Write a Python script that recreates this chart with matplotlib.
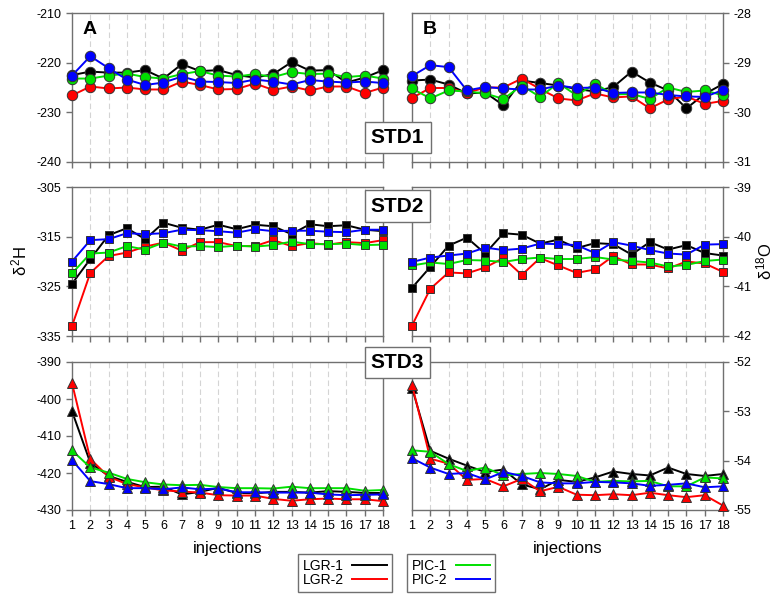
import matplotlib
matplotlib.use("Agg")
import matplotlib.pyplot as plt
import numpy as np

plt.rcParams["font.family"] = ["Liberation Sans", "DejaVu Sans"]
plt.rcParams["axes.unicode_minus"] = False
plt.rcParams["mathtext.fontset"] = "custom"
plt.rcParams["mathtext.rm"] = "Liberation Sans"
plt.rcParams["mathtext.it"] = "Liberation Sans"
plt.rcParams["mathtext.bf"] = "Liberation Sans:bold"

injections = list(range(1, 19))
series_names = ["LGR-1", "LGR-2", "PIC-1", "PIC-2"]
series_colors = ["#000000", "#ff0000", "#00e000", "#0000ff"]

# ── STD1 δ2H (A) ──
std1_h_lgr1 = [-222.5, -221.8, -222.0, -222.0, -221.5, -223.2, -220.3, -221.7, -221.5, -222.5,
               -223.0, -222.3, -219.9, -221.6, -221.5, -224.0, -223.0, -221.5]
std1_h_lgr2 = [-226.6, -224.8, -225.2, -225.0, -225.4, -225.4, -223.8, -224.5, -225.4, -225.3,
               -224.2, -225.5, -224.8, -225.6, -224.8, -224.8, -226.1, -225.0]
std1_h_pic1 = [-223.2, -223.2, -222.6, -222.2, -222.9, -223.2, -222.3, -221.7, -222.6, -222.8,
               -222.3, -222.9, -221.9, -222.3, -222.2, -222.9, -222.6, -223.2]
std1_h_pic2 = [-222.6, -218.7, -221.1, -223.4, -224.5, -224.0, -222.8, -223.8, -223.9, -224.1,
               -223.4, -223.8, -224.4, -223.5, -223.8, -224.0, -223.8, -224.1]

# ── STD1 δ18O (B) ──
std1_o_lgr1 = [-29.36, -29.34, -29.44, -29.62, -29.60, -29.86, -29.36, -29.41, -29.46, -29.53,
               -29.58, -29.49, -29.18, -29.40, -29.56, -29.92, -29.63, -29.43]
std1_o_lgr2 = [-29.71, -29.51, -29.51, -29.61, -29.50, -29.50, -29.32, -29.53, -29.72, -29.76,
               -29.62, -29.70, -29.68, -29.92, -29.74, -29.68, -29.83, -29.77]
std1_o_pic1 = [-29.52, -29.72, -29.56, -29.58, -29.62, -29.73, -29.46, -29.69, -29.41, -29.66,
               -29.42, -29.64, -29.63, -29.73, -29.50, -29.59, -29.56, -29.66]
std1_o_pic2 = [-29.27, -29.05, -29.09, -29.56, -29.49, -29.52, -29.54, -29.54, -29.46, -29.51,
               -29.50, -29.61, -29.60, -29.60, -29.65, -29.68, -29.69, -29.55]

# ── STD2 δ2H (A) ──
std2_h_lgr1 = [-324.5, -319.5, -314.7, -313.3, -315.5, -312.2, -313.2, -313.6, -312.6, -313.5,
               -312.6, -312.9, -314.5, -312.5, -312.9, -312.7, -313.6, -313.9]
std2_h_lgr2 = [-333.0, -322.3, -318.9, -318.2, -317.0, -316.2, -317.8, -316.1, -316.1, -316.9,
               -316.9, -315.7, -316.9, -316.3, -316.6, -316.1, -316.3, -315.7]
std2_h_pic1 = [-322.4, -318.4, -318.2, -316.9, -317.6, -316.2, -317.0, -316.9, -317.1, -316.8,
               -317.0, -316.7, -316.0, -316.5, -316.5, -316.4, -316.7, -316.6]
std2_h_pic2 = [-320.0, -315.7, -315.5, -314.3, -314.5, -314.3, -313.6, -313.7, -313.9, -314.2,
               -313.5, -313.9, -313.8, -313.8, -314.0, -314.1, -313.6, -313.6]

# ── STD2 δ18O (B) ──
std2_o_lgr1 = [-41.03, -40.61, -40.18, -40.02, -40.34, -39.93, -39.96, -40.14, -40.06, -40.23,
               -40.13, -40.15, -40.36, -40.11, -40.26, -40.17, -40.33, -40.38]
std2_o_lgr2 = [-41.79, -41.05, -40.72, -40.74, -40.62, -40.43, -40.77, -40.43, -40.58, -40.73,
               -40.66, -40.39, -40.56, -40.56, -40.64, -40.50, -40.54, -40.71]
std2_o_pic1 = [-40.58, -40.52, -40.55, -40.47, -40.48, -40.51, -40.45, -40.42, -40.45, -40.45,
               -40.41, -40.46, -40.49, -40.52, -40.60, -40.57, -40.49, -40.46]
std2_o_pic2 = [-40.51, -40.42, -40.38, -40.34, -40.22, -40.27, -40.24, -40.14, -40.15, -40.17,
               -40.33, -40.11, -40.18, -40.27, -40.34, -40.36, -40.16, -40.15]

# ── STD3 δ2H (A) ──
std3_h_lgr1 = [-403.3, -417.2, -420.8, -422.4, -423.8, -423.7, -425.8, -425.1, -424.0, -425.4,
               -425.5, -425.1, -425.1, -425.3, -424.9, -425.1, -425.4, -425.4]
std3_h_lgr2 = [-395.7, -416.2, -421.0, -423.0, -423.9, -424.7, -425.0, -425.3, -426.0, -426.1,
               -426.1, -427.0, -427.5, -427.1, -426.9, -427.1, -427.1, -427.6]
std3_h_pic1 = [-413.9, -418.5, -419.9, -421.6, -422.5, -423.1, -423.3, -423.2, -423.8, -424.1,
               -424.1, -424.2, -423.7, -424.1, -424.1, -424.1, -424.8, -424.6]
std3_h_pic2 = [-416.5, -422.2, -423.0, -424.1, -424.1, -424.4, -423.9, -424.4, -424.2, -425.2,
               -425.2, -425.3, -425.3, -425.3, -425.8, -426.0, -425.9, -425.8]

# ── STD3 δ18O (B) ──
std3_o_lgr1 = [-52.52, -53.80, -53.96, -54.10, -54.23, -54.18, -54.48, -54.58, -54.39, -54.43,
               -54.34, -54.22, -54.27, -54.30, -54.14, -54.27, -54.31, -54.27]
std3_o_lgr2 = [-52.46, -53.96, -54.06, -54.39, -54.37, -54.52, -54.37, -54.62, -54.53, -54.69,
               -54.70, -54.68, -54.70, -54.65, -54.70, -54.74, -54.70, -54.91]
std3_o_pic1 = [-53.79, -53.82, -54.07, -54.21, -54.14, -54.30, -54.27, -54.25, -54.27, -54.31,
               -54.43, -54.41, -54.42, -54.41, -54.52, -54.52, -54.34, -54.36]
std3_o_pic2 = [-53.95, -54.14, -54.27, -54.25, -54.38, -54.23, -54.31, -54.44, -54.46, -54.46,
               -54.43, -54.44, -54.46, -54.51, -54.49, -54.46, -54.54, -54.52]

panels = [
    # (row, col, data, marker, ylim, yticks)
    (0, 0, [std1_h_lgr1, std1_h_lgr2, std1_h_pic1, std1_h_pic2], "o", (-240, -210), [-240, -230, -220, -210]),
    (0, 1, [std1_o_lgr1, std1_o_lgr2, std1_o_pic1, std1_o_pic2], "o", (-31, -28), [-31, -30, -29, -28]),
    (1, 0, [std2_h_lgr1, std2_h_lgr2, std2_h_pic1, std2_h_pic2], "s", (-335, -305), [-335, -325, -315, -305]),
    (1, 1, [std2_o_lgr1, std2_o_lgr2, std2_o_pic1, std2_o_pic2], "s", (-42, -39), [-42, -41, -40, -39]),
    (2, 0, [std3_h_lgr1, std3_h_lgr2, std3_h_pic1, std3_h_pic2], "^", (-430, -390), [-430, -420, -410, -400, -390]),
    (2, 1, [std3_o_lgr1, std3_o_lgr2, std3_o_pic1, std3_o_pic2], "^", (-55, -52), [-55, -54, -53, -52]),
]
marker_sizes = {"o": 7.5, "s": 5.8, "^": 6.5}

W, H = 782, 603
fig = plt.figure(figsize=(W / 100, H / 100), dpi=100)

col_x = [(72, 383), (412, 723)]
row_y = [(13, 162), (187, 336), (362, 510)]
spine_col = "#707070"

axes = {}
for row, col, data, mk, ylim, yticks in panels:
    x0, x1 = col_x[col]
    y0, y1 = row_y[row]
    ax = fig.add_axes([x0 / W, 1 - y1 / H, (x1 - x0) / W, (y1 - y0) / H])
    axes[(row, col)] = ax
    for ys, c in zip(data, series_colors):
        ax.plot(injections, ys, color=c, lw=1.4, marker=mk, ms=marker_sizes[mk],
                mfc=c, mec="#333333", mew=0.7, clip_on=False, zorder=3)
    ax.set_xlim(1, 18)
    ax.set_ylim(*ylim)
    ax.set_yticks(yticks)
    ax.set_xticks(injections)
    for x in injections[1:-1]:
        ax.axvline(x, color="#d4d4d4", lw=0.8, ls=(0, (5, 3)), zorder=0)
    for s in ax.spines.values():
        s.set_color(spine_col)
        s.set_linewidth(1.0)
    ax.tick_params(direction="out", length=4, color=spine_col, labelsize=9, width=1.0)
    if col == 1:
        ax.yaxis.tick_right()
    if row == 2:
        ax.set_xticklabels([str(i) for i in injections])
        ax.set_xlabel("injections", fontsize=12, labelpad=6)
    else:
        ax.set_xticklabels([])

axes[(0, 0)].text(0.058, 0.89, "A", transform=axes[(0, 0)].transAxes, fontsize=14,
                  fontweight="bold", ha="center", va="center")
axes[(0, 1)].text(0.058, 0.89, "B", transform=axes[(0, 1)].transAxes, fontsize=14,
                  fontweight="bold", ha="center", va="center")

axes[(1, 0)].set_ylabel(r"$\delta^{2}$H", fontsize=12, labelpad=5)
axes[(1, 1)].yaxis.set_label_position("right")
axes[(1, 1)].set_ylabel(r"$\delta^{18}$O", fontsize=12, rotation=90, labelpad=2)

# STD labels between the panels
for label, yc in [("STD1", 137.5), ("STD2", 206), ("STD3", 362.5)]:
    fig.text(397.5 / W, 1 - yc / H, label, ha="center", va="center", fontsize=15,
             fontweight="bold", zorder=10,
             bbox=dict(boxstyle="square,pad=0.3", fc="white", ec=spine_col, lw=1.0))

# Legends
handles = [plt.Line2D([], [], color=c, lw=1.4) for c in series_colors]
leg_kw = dict(markerfirst=False, fancybox=False, edgecolor=spine_col, fontsize=10,
              handlelength=2.5, handletextpad=0.6, labelspacing=0.05, borderpad=0.35,
              framealpha=1)
leg1 = fig.legend(handles[:2], series_names[:2], loc="center right",
                  bbox_to_anchor=(398.5 / W, 1 - 573 / H), **leg_kw)
leg1.get_frame().set_linewidth(1.0)
leg2 = fig.legend(handles[2:], series_names[2:], loc="center left",
                  bbox_to_anchor=(400 / W, 1 - 573 / H), **leg_kw)
leg2.get_frame().set_linewidth(1.0)

fig.savefig("out.png", dpi=100)
